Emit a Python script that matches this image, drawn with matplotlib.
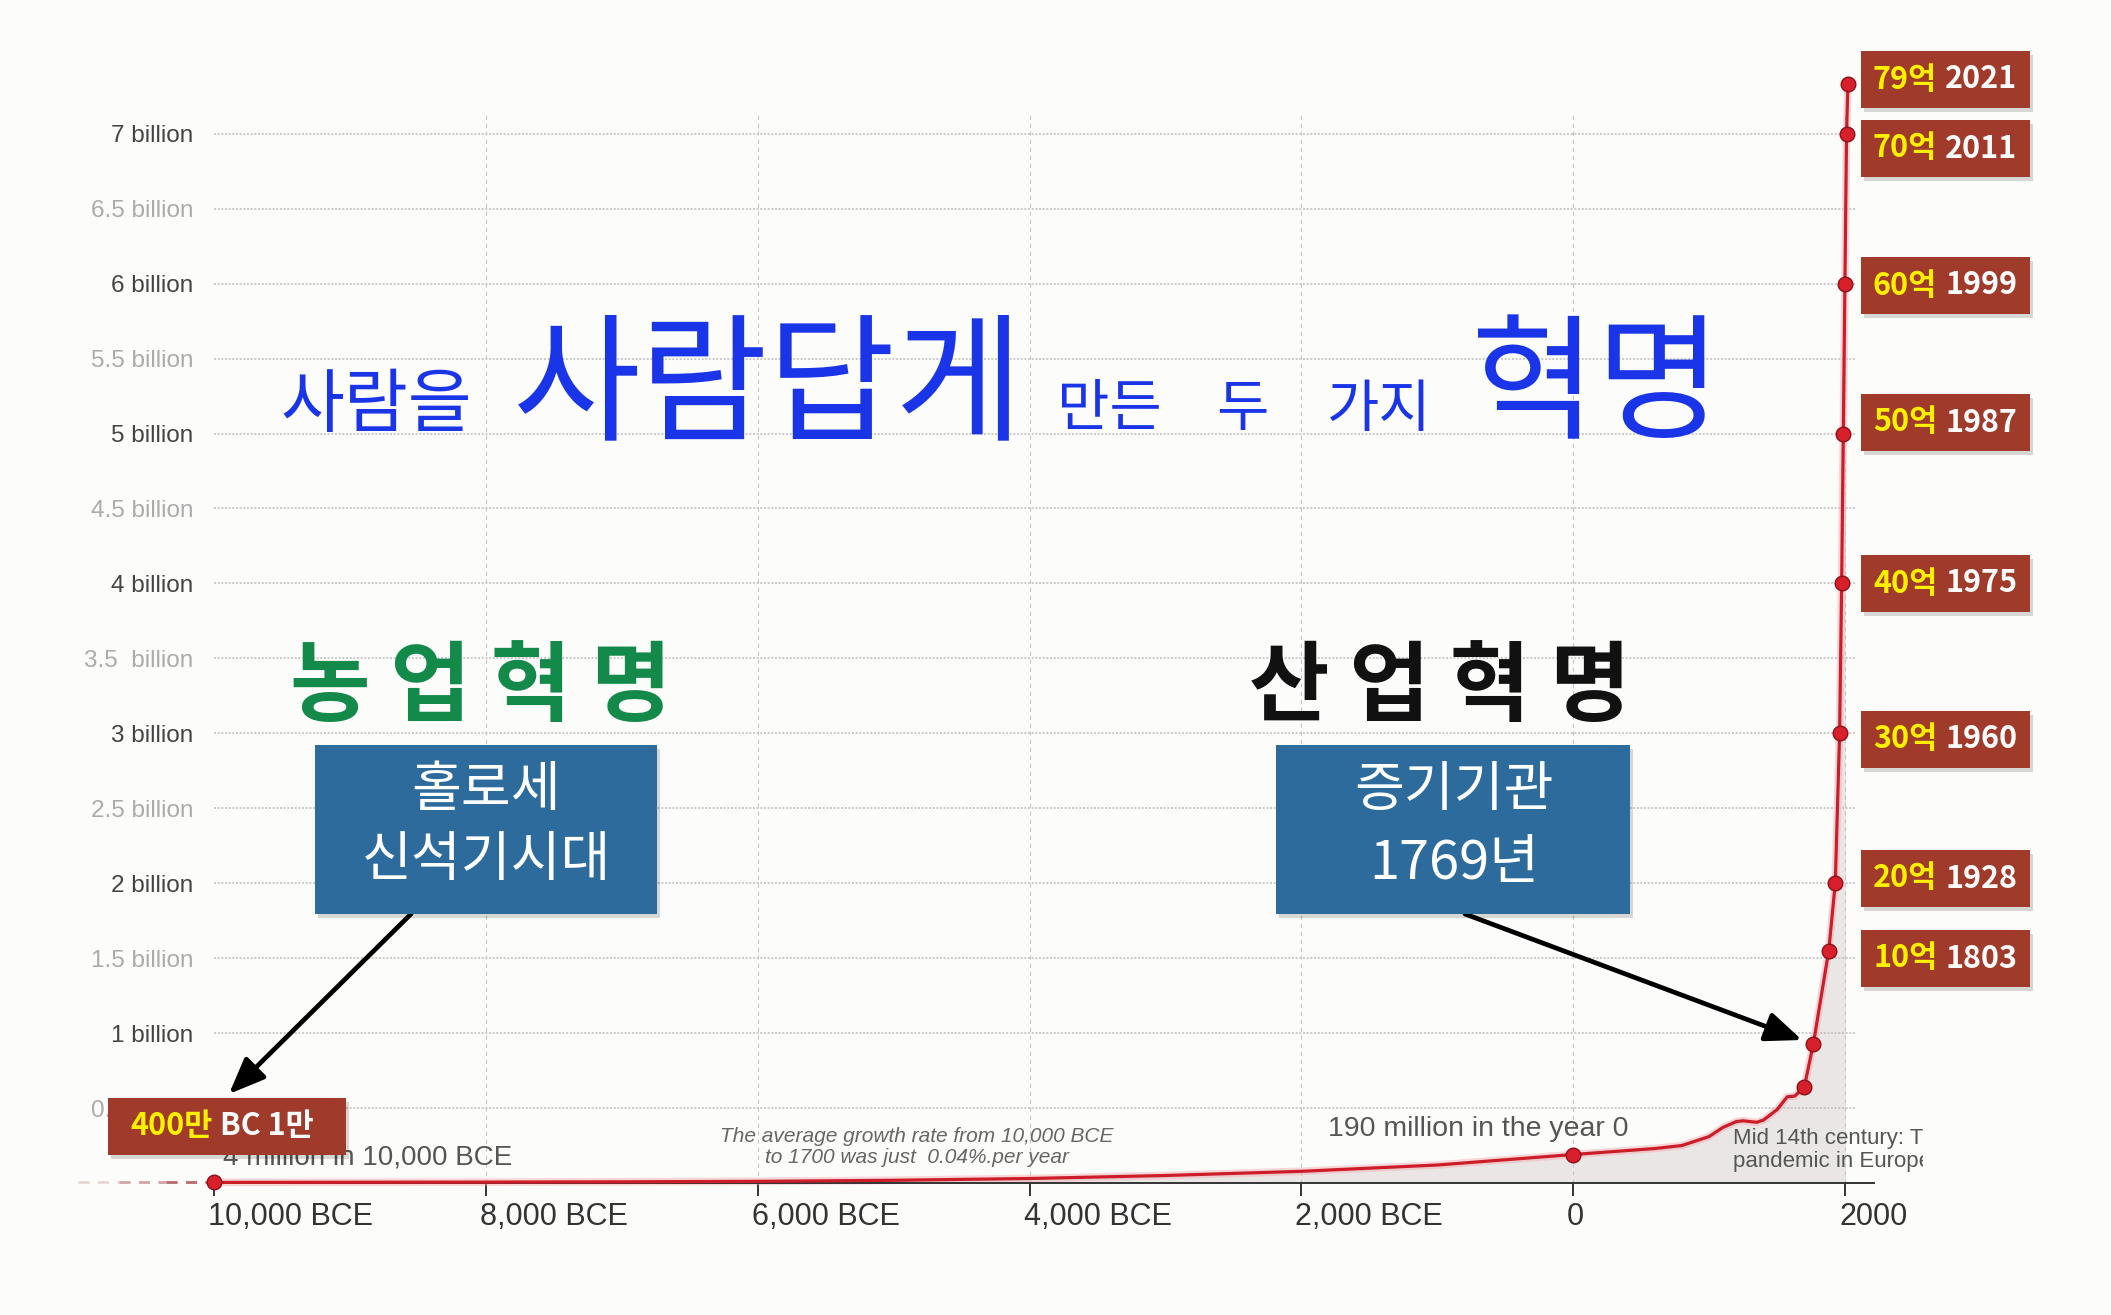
import matplotlib
matplotlib.use('Agg')
import matplotlib.pyplot as plt
from matplotlib.patches import Rectangle
from matplotlib.transforms import Bbox, ScaledTranslation
from matplotlib.text import Annotation

W, H = 2111, 1315
KR = ['Noto Sans CJK KR', 'DejaVu Sans']
plt.rcParams['font.family'] = ['Liberation Sans', 'DejaVu Sans']

# ---------------- data ----------------
curve_years = [-10000, -9000, -8000, -7000, -6000, -5000, -4000, -3000, -2000, -1000,
               0, 300, 600, 800, 1000, 1100, 1200, 1250, 1300, 1350, 1400, 1500,
               1575, 1630, 1700, 1767, 1880, 1928, 1960, 1975, 1987, 1999, 2011, 2021]
curve_pop = [0.004, 0.005, 0.006, 0.008, 0.011, 0.018, 0.030, 0.050, 0.078, 0.120,
             0.190, 0.210, 0.230, 0.250, 0.310, 0.370, 0.410, 0.415, 0.410, 0.405, 0.420, 0.490,
             0.575, 0.580, 0.640, 0.930, 1.550, 2.0, 3.0, 4.0, 5.0, 6.0, 7.0, 7.33]
marker_years = [-10000, 0, 1700, 1767, 1880, 1928, 1960, 1975, 1987, 1999, 2011, 2021]
marker_pop = [0.004, 0.19, 0.64, 0.93, 1.55, 2.0, 3.0, 4.0, 5.0, 6.0, 7.0, 7.33]

ytick_vals = [0.5, 1, 1.5, 2, 2.5, 3, 3.5, 4, 4.5, 5, 5.5, 6, 6.5, 7]
ytick_labels = ['0.5 billion', '1 billion', '1.5 billion', '2 billion', '2.5 billion',
                '3 billion', '3.5  billion', '4 billion', '4.5 billion', '5 billion',
                '5.5 billion', '6 billion', '6.5 billion', '7 billion']
xtick_vals = [-10000, -8000, -6000, -4000, -2000, 0, 2000]
xtick_labels = ['10,000 BCE', '8,000 BCE', '6,000 BCE', '4,000 BCE', '2,000 BCE', '0', '2000']

label_nums = ['79억', '70억', '60억', '50억', '40억', '30억', '20억', '10억']
label_years = ['2021', '2011', '1999', '1987', '1975', '1960', '1928', '1803']
label_tops = [51, 120, 257, 394, 555, 711, 850, 930]

# ---------------- helpers ----------------
BG = '#fcfcfb'
RED = '#cc1d2a'
BOXRED = '#a03a2b'
BOXBLUE = '#2c6b9b'
YELLOW = '#fff000'


def P(px, py):
    return (px / W, 1 - py / H)


fig = plt.figure(figsize=(W / 100, H / 100), dpi=100, facecolor=BG)
ax = fig.add_axes([214 / W, (H - 1183) / H, (1874 - 214) / W, (1183 - 112) / H])
ax.set_facecolor('none')
ax.set_xlim(-10000, 2213)
ax.set_ylim(0, 7.145)
for s in ['left', 'right', 'top']:
    ax.spines[s].set_visible(False)
ax.spines['bottom'].set_color('#333333')
ax.spines['bottom'].set_linewidth(1.4)

# grid
ax.hlines(ytick_vals, -10000, 2075, colors='#bdbdbd', linestyles=(0, (1.3, 1.1)), lw=1.1, zorder=1)
ax.vlines(xtick_vals[1:], 0, 7.145, colors='#c6c6c6', linestyles=(0, (3.6, 3.6)), lw=0.8, zorder=1)

# fill under curve up to 2000
fill = ax.fill_between(curve_years, curve_pop, 0, color='#ebe6e6', lw=0, zorder=0.5)
fill.set_clip_path(Rectangle((-10000, 0), 12000, 8, transform=ax.transData))

# lead-in dashed line
for (a, b), al in zip([(-11000, -10700), (-10700, -10350), (-10350, -10000)], [0.2, 0.45, 0.75]):
    ax.plot([a, b], [0.004, 0.004], ls=(0, (4, 3)), color='#a03a3a', lw=2, alpha=al, clip_on=False, zorder=2)

# curve
ax.plot(curve_years, curve_pop, color='#f4a9ae', lw=5.5, alpha=0.45, clip_on=False, zorder=2,
        solid_joinstyle='round')
ax.plot(curve_years, curve_pop, color=RED, lw=2.3, clip_on=False, zorder=3, solid_joinstyle='round')
ax.plot(marker_years, marker_pop, 'o', ms=10.5, mfc='#d8202c', mec='#8f0f16', mew=1,
        clip_on=False, zorder=4)

# ticks
ax.set_xticks(xtick_vals, xtick_labels, fontsize=22, color='#333333')
ax.tick_params(axis='x', length=9, width=1.4, color='#333333', pad=4.5, direction='out')
off = ScaledTranslation(-6 / 100, 0, fig.dpi_scale_trans)
for lab in ax.get_xticklabels():
    lab.set_horizontalalignment('left')
    lab.set_transform(lab.get_transform() + off)

ax.set_yticks(ytick_vals, ytick_labels, fontsize=17.5)
ax.tick_params(axis='y', length=0, pad=15)
for lab, v in zip(ax.get_yticklabels(), ytick_vals):
    lab.set_color('#444444' if float(v).is_integer() else '#ababab')

# in-axes annotations
tf = fig.transFigure
ax.text(*P(223, 1157), '4 million in 10,000 BCE', transform=tf, fontsize=20, color='#555555',
        va='center', ha='left')
ax.text(*P(917, 1147), 'The average growth rate from 10,000 BCE\nto 1700 was just  0.04%.per year',
        transform=tf, style='italic', fontsize=15, color='#666666', ha='center', va='center',
        linespacing=1.15)
ax.text(*P(1628, 1129), '190 million in the year 0', transform=tf, ha='right', va='center',
        fontsize=20.5, color='#555555')
t = ax.text(*P(1733, 1150), 'Mid 14th century: The Black Death\npandemic in Europe', transform=tf,
            fontsize=16, color='#555555', va='center', ha='left', linespacing=1.1)
t.set_clip_box(Bbox.from_extents(0, 0, 1923, H))
t.set_clip_on(True)

# arrows
ARW = dict(arrowstyle='-|>,head_length=1.1,head_width=0.45', mutation_scale=20,
           lw=3.4, color='black', shrinkA=0, shrinkB=0)
ax.annotate('', xy=P(229, 1094), xycoords='figure fraction', xytext=P(411, 914),
            textcoords='figure fraction', annotation_clip=False, arrowprops=ARW)
ax.annotate('', xy=P(1802, 1040), xycoords='figure fraction', xytext=P(1465, 914),
            textcoords='figure fraction', annotation_clip=False, arrowprops=ARW)


def box(x0, y0, x1, y1, color):
    fig.add_artist(Rectangle(P(x0 + 3, y1 + 4), (x1 - x0) / W, (y1 - y0) / H, transform=tf,
                             fc='black', alpha=0.15, lw=0, zorder=4))
    fig.add_artist(Rectangle(P(x0, y1), (x1 - x0) / W, (y1 - y0) / H, transform=tf,
                             fc=color, lw=0, zorder=5))


def two_color(x, cy, a, b, size=22):
    t1 = fig.text(*P(x, cy), a, color=YELLOW, fontsize=size, fontweight='bold', family=KR,
                  va='center', ha='left', zorder=6)
    an = Annotation(b, xy=(1, 0), xycoords=t1, xytext=(8, 0), textcoords='offset pixels',
                    color='#fbfbfb', fontsize=size, fontweight='bold', family=KR,
                    va='bottom', ha='left')
    an.set_zorder(6)
    fig.add_artist(an)


# title
BLUE = '#1a35e8'
fig.text(*P(376, 406), '사람을', family=KR, fontsize=50, color=BLUE, ha='center', va='center')
fig.text(*P(768, 390), '사람답게', family=KR, fontsize=100, color=BLUE, ha='center', va='center')
fig.text(*P(1109, 410), '만든', family=KR, fontsize=41, color=BLUE, ha='center', va='center')
fig.text(*P(1242, 410), '두', family=KR, fontsize=41, color=BLUE, ha='center', va='center')
fig.text(*P(1379, 410), '가지', family=KR, fontsize=41, color=BLUE, ha='center', va='center')
fig.text(*P(1596, 390), '혁명', family=KR, fontsize=98, color=BLUE, ha='center', va='center')

# revolutions
fig.text(*P(481, 689), '농 업 혁 명', family=KR, fontsize=63, fontweight='bold', color='#148a4a',
         ha='center', va='center')
fig.text(*P(1440, 689), '산 업 혁 명', family=KR, fontsize=63, fontweight='bold', color='#111111',
         ha='center', va='center')

# blue boxes
box(315, 745, 657, 914, BOXBLUE)
fig.text(*P(486, 790), '홀로세', family=KR, fontsize=39, color='white', ha='center', va='center', zorder=6)
fig.text(*P(486, 860), '신석기시대', family=KR, fontsize=39, color='white', ha='center', va='center', zorder=6)
box(1276, 745, 1630, 914, BOXBLUE)
fig.text(*P(1454, 790), '증기기관', family=KR, fontsize=39, color='white', ha='center', va='center', zorder=6)
fig.text(*P(1454, 864), '1769년', family=KR, fontsize=39, color='white', ha='center', va='center', zorder=6)

# red labels
for num, yr, top in zip(label_nums, label_years, label_tops):
    box(1861, top, 2030, top + 57, BOXRED)
    two_color(1873, top + 28.5, num, yr)

box(108, 1098, 346, 1155, BOXRED)
two_color(130, 1126.5, '400만', 'BC 1만')

fig.savefig('out.png', dpi=100, facecolor=BG)
